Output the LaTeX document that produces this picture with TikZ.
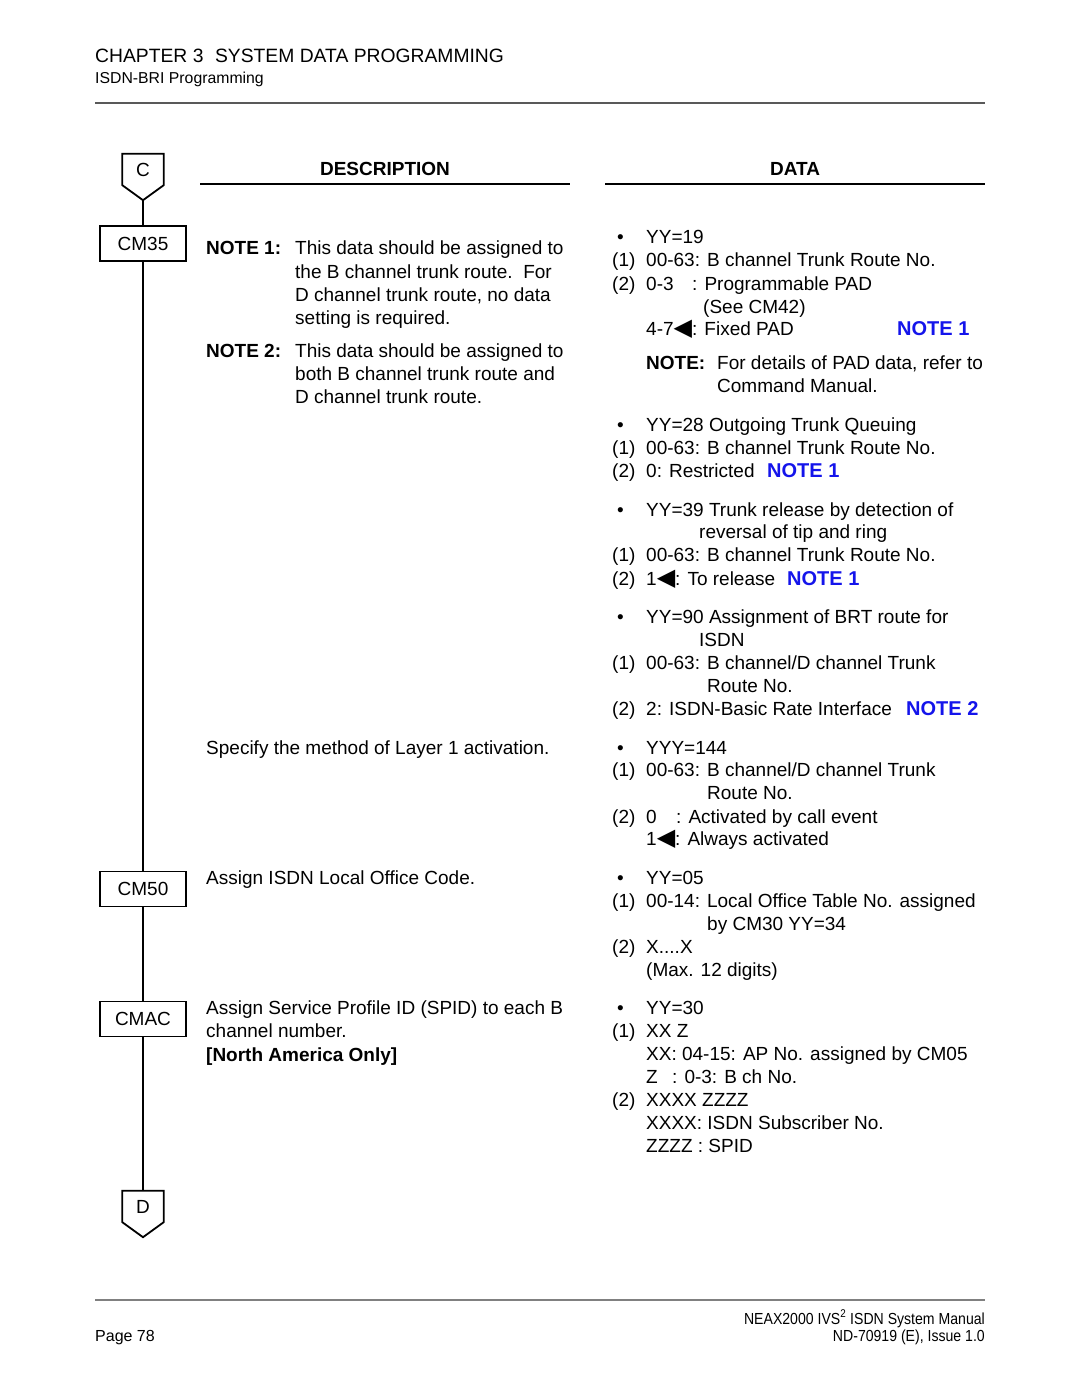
\documentclass[tikz,border=0pt]{standalone}
\usepackage{fontspec}
\setmainfont{Liberation Sans}
\newfontfamily\symfont{DejaVu Sans}
\newfontfamily\narrowfont[FakeStretch=0.88]{Liberation Sans}
\usetikzlibrary{calc}
\definecolor{noteblue}{RGB}{20,20,235}
\newcommand{\tri}{{\symfont\fontsize{24}{20}\selectfont ◀}}
\begin{document}
\begin{tikzpicture}[x=1pt,y=-1pt,
  txt/.style={anchor=base west, inner sep=0pt, font=\fontsize{19}{23}\selectfont},
  bld/.style={txt, font=\fontsize{19}{23}\selectfont\bfseries},
  blue note/.style={txt, font=\fontsize{20}{23}\selectfont\bfseries, text=noteblue},
  headtxt/.style={anchor=base, inner sep=0pt, font=\fontsize{19}{23}\selectfont\bfseries},
  cmbox/.style={draw, line width=1.8pt, minimum width=86pt, minimum height=35pt, inner sep=0pt, font=\fontsize{19}{23}\selectfont},
  offpage/.style={minimum width=41pt, minimum height=31pt, inner sep=0pt, font=\fontsize{19}{23}\selectfont},
  flow/.style={line width=1.8pt},
  foot/.style={inner sep=0pt, font=\narrowfont\fontsize{16}{18}\selectfont}
]
\useasboundingbox (0,0) rectangle (1080,1397);
\fill[white] (0,0) rectangle (1080,1397);

% ---------- header ----------
\node[anchor=base west, inner sep=0pt, font=\fontsize{19.3}{24}\selectfont] (chap) at (95,63) {CHAPTER 3\hspace{0.6em}SYSTEM DATA PROGRAMMING};
\node[anchor=base west, inner sep=0pt, font=\fontsize{15.8}{18}\selectfont] (sub) at (95,83) {ISDN-BRI Programming};
\draw[line width=1.2pt, black!65] (95,103) -- (985,103);

% ---------- column headings ----------
\node[headtxt] (hdesc) at (385,175) {DESCRIPTION};
\draw[line width=1.6pt] (200,184) -- (570,184);
\node[headtxt] (hdata) at (795,175) {DATA};
\draw[line width=1.6pt] (605,184) -- (985,184);

% ---------- flow chart ----------
\node[offpage] (C) at (143,169.5) {C};
\coordinate (Ctip) at ($(C.south)+(0,15)$);
\draw[flow, line join=miter] (C.north west) -- (C.north east) -- (C.south east) -- (Ctip) -- (C.south west) -- cycle;
\node[cmbox] (cm35) at (143,243.5) {CM35};
\node[cmbox] (cm50) at (143,889) {CM50};
\node[cmbox] (cmac) at (143,1019) {CMAC};
\node[offpage] (D) at (143,1206.5) {D};
\coordinate (Dtip) at ($(D.south)+(0,15)$);
\draw[flow, line join=miter] (D.north west) -- (D.north east) -- (D.south east) -- (Dtip) -- (D.south west) -- cycle;
\draw[flow] (Ctip) -- (cm35.north);
\draw[flow] (cm35.south) -- (cm50.north);
\draw[flow] (cm50.south) -- (cmac.north);
\draw[flow] (cmac.south) -- (D.north);

% ---------- description column ----------
\node[bld] (n1) at (206,254) {NOTE 1:};
\node[txt] (n1a) at (295,254) {This data should be assigned to};
\node[txt] (n1b) at (295,278) {the B channel trunk route.\ \ For};
\node[txt] (n1c) at (295,301) {D channel trunk route, no data};
\node[txt] (n1d) at (295,324) {setting is required.};
\node[bld] (n2) at (206,357) {NOTE 2:};
\node[txt] (n2a) at (295,357) {This data should be assigned to};
\node[txt] (n2b) at (295,380) {both B channel trunk route and};
\node[txt] (n2c) at (295,403) {D channel trunk route.};
\node[txt] (spec) at (206,754) {Specify the method of Layer 1 activation.};
\node[txt] (loc) at (206,884) {Assign ISDN Local Office Code.};
\node[txt] (spid1) at (206,1014) {Assign Service Profile ID (SPID) to each B};
\node[txt] (spid2) at (206,1037) {channel number.};
\node[bld] (spid3) at (206,1061) {[North America Only]};

% ---------- data column ----------
% YY=19
\node[txt] (b19) at (617,243) {•};
\node[txt] (y19) at (646,243) {YY=19};
\node[txt] (y19m1) at (612,266) {(1)};
\node[txt] (y19t1) at (646,266) {00-63: B channel Trunk Route No.};
\node[txt] (y19m2) at (612,290) {(2)};
\node[txt] (y19t2) at (646,290) {0-3};
\node[txt] (y19t2b) at (692,290) {: Programmable PAD};
\node[txt] (y19t3) at (703,313) {(See CM42)};
\node[txt] (y19t4) at (646,335) {4-7\tri: Fixed PAD};
\node[blue note] (y19n) at (897,335) {NOTE 1};
\node[bld] (y19note) at (646,369) {NOTE:};
\node[txt] (y19nt1) at (717,369) {For details of PAD data, refer to};
\node[txt] (y19nt2) at (717,392) {Command Manual.};
% YY=28
\node[txt] (b28) at (617,431) {•};
\node[txt] (y28) at (646,431) {YY=28 Outgoing Trunk Queuing};
\node[txt] (y28m1) at (612,454) {(1)};
\node[txt] (y28t1) at (646,454) {00-63: B channel Trunk Route No.};
\node[txt] (y28m2) at (612,477) {(2)};
\node[txt] (y28t2) at (646,477) {0: Restricted};
\node[blue note] (y28n) at (767,477) {NOTE 1};
% YY=39
\node[txt] (b39) at (617,516) {•};
\node[txt] (y39) at (646,516) {YY=39 Trunk release by detection of};
\node[txt] (y39b) at (699,538) {reversal of tip and ring};
\node[txt] (y39m1) at (612,561) {(1)};
\node[txt] (y39t1) at (646,561) {00-63: B channel Trunk Route No.};
\node[txt] (y39m2) at (612,585) {(2)};
\node[txt] (y39t2) at (646,585) {1\tri: To release};
\node[blue note] (y39n) at (787,585) {NOTE 1};
% YY=90
\node[txt] (b90) at (617,623) {•};
\node[txt] (y90) at (646,623) {YY=90 Assignment of BRT route for};
\node[txt] (y90b) at (699,646) {ISDN};
\node[txt] (y90m1) at (612,669) {(1)};
\node[txt] (y90t1) at (646,669) {00-63: B channel/D channel Trunk};
\node[txt] (y90t1b) at (707,692) {Route No.};
\node[txt] (y90m2) at (612,715) {(2)};
\node[txt] (y90t2) at (646,715) {2: ISDN-Basic Rate Interface};
\node[blue note] (y90n) at (906,715) {NOTE 2};
% YYY=144
\node[txt] (b144) at (617,754) {•};
\node[txt] (y144) at (646,754) {YYY=144};
\node[txt] (y144m1) at (612,776) {(1)};
\node[txt] (y144t1) at (646,776) {00-63: B channel/D channel Trunk};
\node[txt] (y144t1b) at (707,799) {Route No.};
\node[txt] (y144m2) at (612,823) {(2)};
\node[txt] (y144t2) at (646,823) {0};
\node[txt] (y144t2b) at (676,823) {: Activated by call event};
\node[txt] (y144t3) at (646,845) {1\tri: Always activated};
% YY=05
\node[txt] (b05) at (617,884) {•};
\node[txt] (y05) at (646,884) {YY=05};
\node[txt] (y05m1) at (612,907) {(1)};
\node[txt] (y05t1) at (646,907) {00-14: Local Office Table No. assigned};
\node[txt] (y05t1b) at (707,930) {by CM30 YY=34};
\node[txt] (y05m2) at (612,953) {(2)};
\node[txt] (y05t2) at (646,953) {X....X};
\node[txt] (y05t3) at (646,976) {(Max. 12 digits)};
% YY=30
\node[txt] (b30) at (617,1014) {•};
\node[txt] (y30) at (646,1014) {YY=30};
\node[txt] (y30m1) at (612,1037) {(1)};
\node[txt] (y30t1) at (646,1037) {XX Z};
\node[txt] (y30t2) at (646,1060) {XX: 04-15: AP No. assigned by CM05};
\node[txt] (y30t3) at (646,1083) {Z};
\node[txt] (y30t3b) at (672,1083) {: 0-3: B ch No.};
\node[txt] (y30m2) at (612,1106) {(2)};
\node[txt] (y30t4) at (646,1106) {XXXX ZZZZ};
\node[txt] (y30t5) at (646,1129) {XXXX: ISDN Subscriber No.};
\node[txt] (y30t6) at (646,1152) {ZZZZ : SPID};

% ---------- footer ----------
\draw[line width=1.6pt, black!50] (95,1300) -- (985,1300);
\node[anchor=base west, inner sep=0pt, font=\fontsize{16}{18}\selectfont] (page) at (95,1341) {Page 78};
\node[foot, anchor=base east] (man) at (985,1324) {NEAX2000 IVS\textsuperscript{2} ISDN System Manual};
\node[foot, anchor=base east] (iss) at (985,1341) {ND-70919 (E), Issue 1.0};
\end{tikzpicture}
\end{document}
